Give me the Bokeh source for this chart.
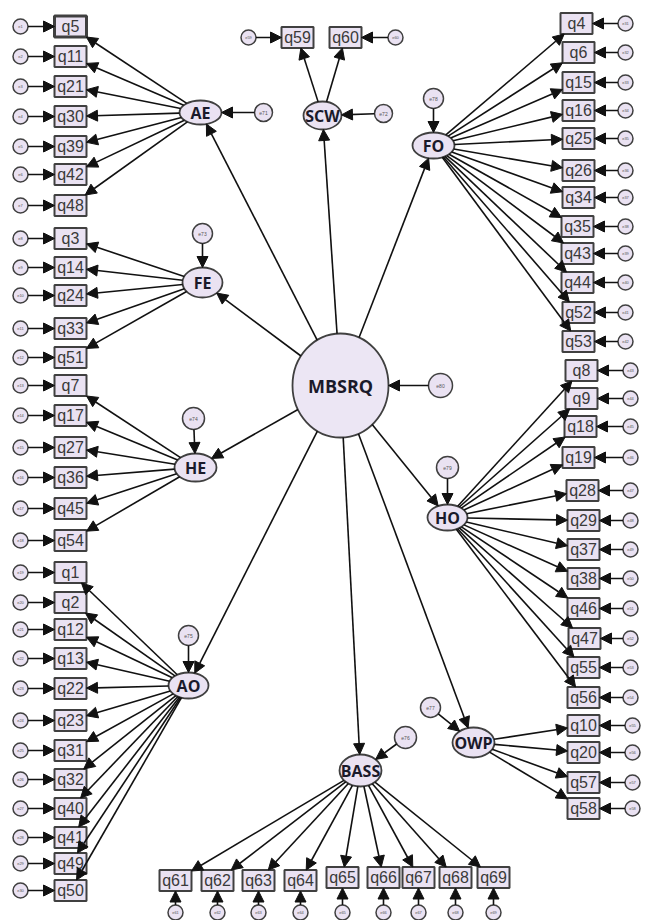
import numpy as np
from bokeh.plotting import figure
from bokeh.models import Range1d, Arrow, NormalHead, ColumnDataSource
from bokeh.core.properties import value
from bokeh.embed import file_html
from bokeh.resources import INLINE

# ---------------- data (diagram layout) ----------------
# latent factors: name, centre x, centre y, half-width, half-height
factor_names = ["AE", "SCW", "FO", "FE", "HE", "HO", "AO", "BASS", "OWP"]
factor_x = [200, 322, 433, 202, 195, 447, 188, 360, 473]
factor_y = [112, 115, 145, 282, 467, 517, 685, 770, 742]
factor_rx = [21, 19, 21, 20, 21, 20, 20, 21, 21]
factor_ry = [12, 14, 13, 15, 14, 13, 13, 16, 15]
# disturbance terms of factors
factor_err = ["e71", "e72", "e78", "e73", "e74", "e79", "e75", "e76", "e77"]
factor_err_x = [263, 383, 433, 202, 193, 447, 188, 405, 430]
factor_err_y = [112, 113, 98, 233, 418, 467, 635, 737, 707]
factor_err_r = [9, 9, 10, 10, 11, 11, 10, 11, 10]

# higher-order factor
top_name = "MBSRQ"
top_x, top_y, top_rx, top_ry = 340, 385, 48, 52
top_err = "e80"
top_err_x, top_err_y, top_err_r = 440, 385, 12

# indicators of each factor
AE_items = ["q5", "q11", "q21", "q30", "q39", "q42", "q48"]
AE_y = [26, 56, 86, 116, 146, 174, 205]
FE_items = ["q3", "q14", "q24", "q33", "q51"]
FE_y = [238, 267, 295, 328, 357]
HE_items = ["q7", "q17", "q27", "q36", "q45", "q54"]
HE_y = [385, 415, 447, 477, 508, 540]
AO_items = ["q1", "q2", "q12", "q13", "q22", "q23", "q31", "q32", "q40", "q41", "q49", "q50"]
AO_y = [572, 602, 629, 658, 688, 720, 750, 779, 808, 837, 863, 890]
left_box_x = 70
left_err_x = 20

FO_items = ["q4", "q6", "q15", "q16", "q25", "q26", "q34", "q35", "q43", "q44", "q52", "q53"]
FO_y = [23, 52, 82, 110, 138, 170, 197, 226, 253, 282, 312, 341]
FO_x = [576, 578, 578, 578, 578, 578, 578, 577, 577, 577, 578, 578]
FO_err_x = 625
HO_items = ["q8", "q9", "q18", "q19", "q28", "q29", "q37", "q38", "q46", "q47", "q55", "q56"]
HO_y = [370, 398, 426, 457, 490, 520, 549, 578, 608, 638, 667, 697]
HO_x = [581, 581, 580, 578, 582, 583, 583, 583, 583, 584, 583, 583]
HO_err_x = 630
OWP_items = ["q10", "q20", "q57", "q58"]
OWP_y = [725, 752, 782, 808]
OWP_x = [583, 583, 583, 583]
OWP_err_x = 632

SCW_items = ["q59", "q60"]
SCW_x = [297, 345]
SCW_y = [37, 37]
SCW_err_x = [248, 395]

BASS_items = ["q61", "q62", "q63", "q64", "q65", "q66", "q67", "q68", "q69"]
BASS_x = [175, 217, 258, 300, 342, 383, 418, 455, 493]
BASS_y = [880, 880, 880, 880, 877, 877, 877, 877, 877]
BASS_err_y = 912

BOX_W, BOX_H = 32, 21
ERR_R = 7.5

# ---------------- assemble ----------------
items = []  # (label, x, y, factor, err_x, err_y)
for lab, y in zip(AE_items, AE_y):
    items.append((lab, left_box_x, y, "AE", left_err_x, y))
for lab, y in zip(FE_items, FE_y):
    items.append((lab, left_box_x, y, "FE", left_err_x, y))
for lab, y in zip(HE_items, HE_y):
    items.append((lab, left_box_x, y, "HE", left_err_x, y))
for lab, y in zip(AO_items, AO_y):
    items.append((lab, left_box_x, y, "AO", left_err_x, y))
for lab, x, y in zip(FO_items, FO_x, FO_y):
    items.append((lab, x, y, "FO", FO_err_x, y))
for lab, x, y in zip(HO_items, HO_x, HO_y):
    items.append((lab, x, y, "HO", HO_err_x, y))
for lab, x, y in zip(OWP_items, OWP_x, OWP_y):
    items.append((lab, x, y, "OWP", OWP_err_x, y))
for lab, x, y, ex in zip(SCW_items, SCW_x, SCW_y, SCW_err_x):
    items.append((lab, x, y, "SCW", ex, y))
for lab, x, y in zip(BASS_items, BASS_x, BASS_y):
    items.append((lab, x, y, "BASS", x, BASS_err_y))

fidx = {n: i for i, n in enumerate(factor_names)}


def ell_edge(cx, cy, rx, ry, tx, ty):
    dx, dy = tx - cx, ty - cy
    t = 1.0 / np.sqrt((dx / rx) ** 2 + (dy / ry) ** 2)
    return cx + dx * t, cy + dy * t


def box_edge(cx, cy, w, h, tx, ty):
    dx, dy = tx - cx, ty - cy
    tx_ = (w / 2) / abs(dx) if dx != 0 else np.inf
    ty_ = (h / 2) / abs(dy) if dy != 0 else np.inf
    t = min(tx_, ty_)
    return cx + dx * t, cy + dy * t


xs0, ys0, xs1, ys1 = [], [], [], []


def add(a, b):
    xs0.append(a[0]); ys0.append(a[1]); xs1.append(b[0]); ys1.append(b[1])


for lab, bx, by, f, ex, ey in items:
    i = fidx[f]
    fx, fy, rx, ry = factor_x[i], factor_y[i], factor_rx[i], factor_ry[i]
    add(ell_edge(fx, fy, rx, ry, bx, by), box_edge(bx, by, BOX_W, BOX_H, fx, fy))
    add(ell_edge(ex, ey, ERR_R, ERR_R, bx, by), box_edge(bx, by, BOX_W, BOX_H, ex, ey))

for i in range(len(factor_names)):
    fx, fy, rx, ry = factor_x[i], factor_y[i], factor_rx[i], factor_ry[i]
    add(ell_edge(top_x, top_y, top_rx, top_ry, fx, fy), ell_edge(fx, fy, rx, ry, top_x, top_y))
    ex, ey, er = factor_err_x[i], factor_err_y[i], factor_err_r[i]
    add(ell_edge(ex, ey, er, er, fx, fy), ell_edge(fx, fy, rx, ry, ex, ey))
add(ell_edge(top_err_x, top_err_y, top_err_r, top_err_r, top_x, top_y),
    ell_edge(top_x, top_y, top_rx, top_ry, top_err_x, top_err_y))

# ---------------- figure ----------------
p = figure(width=652, height=920, x_range=Range1d(0, 652), y_range=Range1d(920, 0),
           toolbar_location=None, output_backend="svg", min_border=0,
           background_fill_color="white", outline_line_color=None)
p.axis.visible = False
p.grid.visible = False

arrow_src = ColumnDataSource(dict(x0=xs0, y0=ys0, x1=xs1, y1=ys1))
p.add_layout(Arrow(source=arrow_src, x_start="x0", y_start="y0", x_end="x1", y_end="y1",
                   line_color="#111111", line_width=1.6,
                   end=NormalHead(size=11, fill_color="#111111", line_color="#111111", line_width=1)))

FILL = "#EAE2F2"
EDGE = "#404040"

# boxes
bx = [it[1] for it in items]
by = [it[2] for it in items]
bl = [it[0] for it in items]
lw = [3.0 if l == "q5" else 2.0 for l in bl]
p.rect(bx, by, width=BOX_W, height=BOX_H, fill_color=FILL, line_color=EDGE, line_width=lw)
p.text(bx, by, text=bl, text_align="center", text_baseline="middle",
       text_font=value("Liberation Sans"), text_font_size="16px", text_color="#3a3a3a")

# indicator error circles
ex = [it[4] for it in items]
ey = [it[5] for it in items]
elab = ["e%d" % (k + 1) for k in range(len(items))]
p.circle(ex, ey, radius=ERR_R, fill_color=FILL, line_color=EDGE, line_width=1.5)
p.text(ex, ey, text=elab, text_align="center", text_baseline="middle",
       text_font=value("Liberation Sans"), text_font_size="4px", text_color="#555555")

# factor error circles
p.circle(factor_err_x + [top_err_x], factor_err_y + [top_err_y],
         radius=factor_err_r + [top_err_r], fill_color=FILL, line_color=EDGE, line_width=1.5)
p.text(factor_err_x + [top_err_x], factor_err_y + [top_err_y], text=factor_err + [top_err],
       text_align="center", text_baseline="middle", text_font=value("Liberation Sans"),
       text_font_size="5px", text_color="#555555")

# factors
p.ellipse(factor_x, factor_y, width=[2 * r for r in factor_rx], height=[2 * r for r in factor_ry],
          fill_color=FILL, line_color=EDGE, line_width=1.8)
p.text(factor_x, factor_y, text=factor_names, text_align="center", text_baseline="middle",
       text_font=value("Open Sans"), text_font_style="bold", text_font_size="16px",
       text_color="#1a1a2a")

p.ellipse([top_x], [top_y], width=2 * top_rx, height=2 * top_ry,
          fill_color="#ECE6F4", line_color=EDGE, line_width=1.8)
p.text([top_x], [top_y], text=[top_name], text_align="center", text_baseline="middle",
       text_font=value("Open Sans"), text_font_style="bold", text_font_size="18px",
       text_color="#1a1a2a")

open("out.html", "w").write(file_html(p, INLINE))
